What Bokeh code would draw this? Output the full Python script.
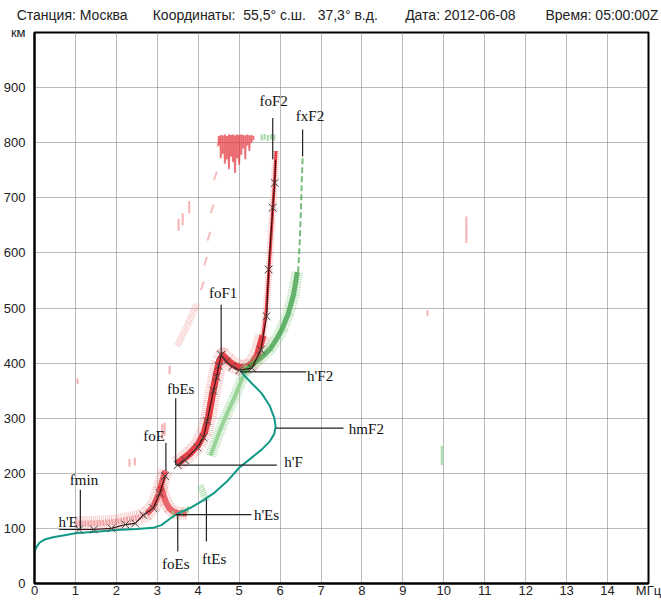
from bokeh.plotting import figure
from bokeh.models import FixedTicker, LinearAxis, Range1d
from bokeh.embed import file_html
from bokeh.resources import INLINE
from bokeh.core.properties import value

NBSP = "\u00a0"

# ---------------- header ----------------
station = "Станция: Москва"
coords = "Координаты:" + NBSP * 2 + "55,5° с.ш." + NBSP * 3 + "37,3° в.д."
date = "Дата: 2012-06-08"
obs_time = "Время: 05:00:00Z"
header_pos = [38, 233, 430, 573]  # label centres, px from the left edge of the frame

freq_ticks = list(range(0, 16))           # MHz (15 carries the unit)
height_ticks = list(range(0, 1001, 100))  # km (1000 carries the unit)
freq_unit = "МГц"
height_unit = "км"

# ---------------- O-mode echoes (MHz, km) ----------------
o_e_f = [1.0, 1.3, 1.7, 2.0, 2.3, 2.55, 2.75, 2.9, 3.02, 3.12, 3.2]
o_e_h = [109, 109, 110, 112, 116, 120, 127, 139, 160, 186, 205]

o_es_f = [3.08, 3.15, 3.22, 3.3, 3.4, 3.5, 3.62, 3.72]
o_es_h = [178, 160, 146, 136, 130, 128, 127, 127]

o_f_low_f = [3.47, 3.6, 3.8, 4.0, 4.15, 4.25, 4.35, 4.45, 4.52, 4.6, 4.72, 4.85, 5.0, 5.15, 5.3, 5.45, 5.58]
o_f_low_h = [217, 224, 236, 252, 274, 302, 345, 382, 404, 414, 405, 397, 392, 392, 398, 415, 450]
o_f_up_f = [5.58, 5.66, 5.72, 5.78, 5.83, 5.87, 5.9]
o_f_up_h = [450, 495, 560, 630, 690, 740, 785]

# second-hop / multiple reflection traces (faint)
o_m_f = [3.48, 3.6, 3.72, 3.85, 3.97]
o_m_h = [432, 448, 466, 488, 508]
o_m2_f = [4.1, 4.18, 4.26, 4.34, 4.42, 4.5]
o_m2_h = [540, 585, 630, 680, 740, 800]

# spread echoes near 800 km: (freq, lower, upper)
o_spread_f = [4.5, 4.55, 4.6, 4.65, 4.7, 4.75, 4.8, 4.85, 4.9, 4.95, 5.0, 5.05, 5.1, 5.15, 5.2, 5.25, 5.3, 5.35]
o_spread_lo = [795, 772, 780, 762, 770, 752, 775, 765, 745, 772, 760, 778, 790, 770, 795, 785, 800, 805]
o_spread_hi = [812, 814, 813, 815, 812, 815, 814, 815, 813, 815, 814, 815, 814, 813, 815, 813, 814, 812]

# isolated faint O echoes (freq, lower, upper)
o_iso_f = [1.05, 2.32, 2.45, 3.12, 3.18, 3.3, 3.52, 3.62, 3.78, 9.6, 10.55]
o_iso_lo = [362, 212, 214, 262, 268, 380, 640, 650, 672, 486, 618]
o_iso_hi = [372, 226, 228, 290, 292, 395, 662, 672, 694, 496, 666]

# ---------------- X-mode echoes ----------------
x_f1_f = [4.3, 4.4, 4.5, 4.63, 4.76, 4.9, 5.04, 5.2]
x_f1_h = [232, 252, 272, 296, 318, 340, 366, 394]

x_f2_f = [5.12, 5.3, 5.45, 5.6, 5.75, 5.9, 6.05, 6.2, 6.33, 6.42]
x_f2_h = [384, 396, 405, 414, 425, 442, 462, 490, 525, 565]
x_f2_top_f = [6.44, 6.48, 6.51, 6.53, 6.55]
x_f2_top_h = [565, 620, 680, 730, 772]

x_es_f = [4.05, 4.1, 4.15, 4.2]
x_es_h = [178, 168, 158, 150]

x_iso_f = [3.38, 3.6, 3.75, 5.55, 5.62, 5.7, 5.78, 5.86, 9.95]
x_iso_lo = [118, 122, 128, 804, 805, 803, 806, 804, 215]
x_iso_hi = [132, 135, 140, 815, 816, 814, 816, 815, 250]

# ---------------- scaled trace (X markers) ----------------
e_mark_f = [1.09, 1.45, 1.88, 2.22, 2.46, 2.66, 2.9, 3.06, 3.19]
e_mark_h = [98, 98, 100, 107, 109, 124, 137, 164, 195]

f_mark_f = [3.5, 3.67, 3.98, 4.13, 4.22, 4.37, 4.45, 4.5, 4.56, 4.68, 4.83, 5.0, 5.31, 5.53,
            5.67, 5.72, 5.82, 5.87]
f_mark_h = [215, 224, 247, 265, 295, 350, 375, 395, 415, 403, 394, 387, 391, 424,
            485, 570, 682, 727]
f_trace_end_f = 5.89
f_trace_end_h = 768

# ---------------- electron density profile ----------------
prof_f = [0.0, 0.05, 0.12, 0.25, 0.45, 0.7, 1.0, 1.5, 2.0, 2.5, 2.9, 3.1, 3.3, 3.5, 3.8, 4.1,
          4.4, 4.7, 5.0, 5.3, 5.55, 5.75, 5.86, 5.89, 5.86, 5.75, 5.55, 5.3, 5.12, 5.03]
prof_h = [58, 66, 74, 80, 84, 87, 91, 94, 97, 99, 101, 106, 117, 127, 137, 150,
          165, 185, 210, 228, 243, 258, 272, 285, 300, 322, 345, 364, 378, 388]

# ---------------- scaled parameters ----------------
fmin = 1.12
h_E = 98
foE = 3.21
fbEs = 3.45
foEs = 3.5
ftEs = 4.2
h_Es = 125
h_F = 215
foF1 = 4.56
h_F2 = 384
hmF2 = 282
foF2 = 5.82
fxF2 = 6.55

RED = "#e0242c"
PINK = "#f29090"
GREEN = "#3c9e45"
LGREEN = "#90d090"
TEAL = "#119a86"
SERIF = "Liberation Serif"
SANS = "Liberation Sans"

p = figure(width=661, height=600, x_range=(0, 15), y_range=(0, 1000),
           output_backend="svg", toolbar_location=None,
           min_border_left=28, min_border_right=13, min_border_top=32, min_border_bottom=17)
p.background_fill_color = "white"
p.border_fill_color = "white"
p.outline_line_color = "black"
p.outline_line_width = 2

for ax in (p.xaxis[0], p.yaxis[0]):
    ax.axis_line_color = "black"
    ax.axis_line_width = 2
    ax.major_tick_line_color = None
    ax.minor_tick_line_color = None
    ax.major_label_text_font = SANS
    ax.major_label_text_font_size = "13px"
    ax.major_label_text_color = "#222222"
p.xaxis.ticker = FixedTicker(ticks=freq_ticks)
p.yaxis.ticker = FixedTicker(ticks=height_ticks)
p.xaxis.major_label_overrides = {15: freq_unit}
p.yaxis.major_label_overrides = {1000: height_unit}
p.xaxis.major_label_standoff = -7
p.yaxis.major_label_standoff = 3

# header line drawn as a label-only axis above the frame
p.extra_x_ranges = {"header": Range1d(0, 620)}
hdr = LinearAxis(x_range_name="header", ticker=FixedTicker(ticks=header_pos),
                 major_label_overrides=dict(zip(header_pos, [station, coords, date, obs_time])),
                 axis_line_color=None, major_tick_line_color=None, minor_tick_line_color=None,
                 major_label_standoff=4, major_label_text_font=SANS,
                 major_label_text_font_size="14px", major_label_text_color="#222222")
p.add_layout(hdr, "above")

for g in (p.xgrid[0], p.ygrid[0]):
    g.grid_line_color = "#777777"
    g.grid_line_dash = "1 1"
    g.grid_line_width = 1
p.xgrid.ticker = FixedTicker(ticks=list(range(1, 15)))
p.ygrid.ticker = FixedTicker(ticks=list(range(100, 1000, 100)))


def echo(f, h, color, width, alpha, dash="solid"):
    p.line(f, h, line_color=color, line_width=width, line_alpha=alpha, line_dash=dash,
           line_cap="butt", line_join="round")


# O echoes
echo(o_e_f, o_e_h, PINK, 15, 0.5, "1 1")
echo(o_e_f, o_e_h, RED, 6, 0.35, "2 1")
echo(o_e_f[6:], o_e_h[6:], RED, 6, 0.6)
echo(o_es_f, o_es_h, PINK, 13, 0.55, "1 1")
echo(o_es_f, o_es_h, RED, 6, 0.65)
echo(o_f_low_f, o_f_low_h, PINK, 16, 0.5, "1 1")
echo(o_f_low_f, o_f_low_h, RED, 7, 0.85)
echo(o_f_up_f, o_f_up_h, PINK, 7, 0.5, "1 1")
echo(o_f_up_f, o_f_up_h, RED, 3, 0.85)
echo(o_m_f, o_m_h, PINK, 7, 0.5, "1 1")
p.scatter(o_m2_f, o_m2_h, marker="dash", angle=1.25, size=9, line_color=PINK, line_width=2, line_alpha=0.6)
p.varea(x=o_spread_f, y1=o_spread_lo, y2=o_spread_hi, fill_color=PINK, fill_alpha=0.35)
p.segment(x0=o_spread_f, y0=o_spread_lo, x1=o_spread_f, y1=o_spread_hi, line_color=RED,
          line_width=2, line_alpha=0.6)
p.segment(x0=o_iso_f, y0=o_iso_lo, x1=o_iso_f, y1=o_iso_hi, line_color=PINK,
          line_width=2, line_alpha=0.7)

# X echoes
echo(x_f1_f, x_f1_h, LGREEN, 11, 0.6, "1 1")
echo(x_f1_f, x_f1_h, LGREEN, 4, 0.9)
echo(x_f2_f, x_f2_h, LGREEN, 12, 0.6, "1 1")
echo(x_f2_f, x_f2_h, GREEN, 5, 0.75)
echo(x_f2_top_f, x_f2_top_h, GREEN, 2, 0.7, "6 3")
echo(x_es_f, x_es_h, LGREEN, 7, 0.8, "1 1")
p.segment(x0=x_iso_f, y0=x_iso_lo, x1=x_iso_f, y1=x_iso_hi, line_color=LGREEN,
          line_width=2, line_alpha=0.8)

# profile
p.line(prof_f, prof_h, line_color=TEAL, line_width=2)

# scaled trace
p.line(e_mark_f, e_mark_h, line_color="#3a1010", line_width=1.2)
p.line(f_mark_f + [f_trace_end_f], f_mark_h + [f_trace_end_h], line_color="#3a1010", line_width=1.2)
p.scatter(e_mark_f + f_mark_f, e_mark_h + f_mark_h, marker="x", size=11,
          line_color="#444444", line_width=1)

# scaled parameter markers
seg_x0 = [fmin, 0.6, foE, fbEs, fbEs, foEs, fbEs, ftEs, foF1, 5.03, 5.9, foF2, fxF2]
seg_y0 = [h_E, h_E, 204, h_F, h_F, h_Es, h_Es, 153, 416, h_F2, hmF2, 770, 775]
seg_x1 = [fmin, fmin, foE, fbEs, 5.92, foEs, 5.3, ftEs, foF1, 6.64, 7.55, foF2, fxF2]
seg_y1 = [170, h_E, 255, 336, h_F, 58, h_Es, 76, 506, h_F2, hmF2, 845, 824]
p.segment(x0=seg_x0, y0=seg_y0, x1=seg_x1, y1=seg_y1, line_color="#222222", line_width=1.2)

lab_text = ["foF2", "fxF2", "foF1", "fbEs", "foE", "fmin", "h'E", "foEs", "ftEs"]
lab_x = [5.84, 6.73, 4.61, 3.57, 2.92, 1.21, 0.82, 3.45, 4.39]
lab_y = [876, 849, 527, 353, 267, 187, 111, 35, 45]
p.text(lab_x, lab_y, text=lab_text, text_font=value(SERIF), text_font_size="15px",
       text_align="center", text_baseline="middle", text_color="#111111")
lab2_text = ["h'Es", "h'F", "h'F2", "hmF2"]
lab2_x = [5.36, 6.1, 6.66, 7.68]
lab2_y = [124, 220, 376, 280]
p.text(lab2_x, lab2_y, text=lab2_text, text_font=value(SERIF), text_font_size="15px",
       text_align="left", text_baseline="middle", text_color="#111111")

open("out.html", "w").write(file_html(p, INLINE))
